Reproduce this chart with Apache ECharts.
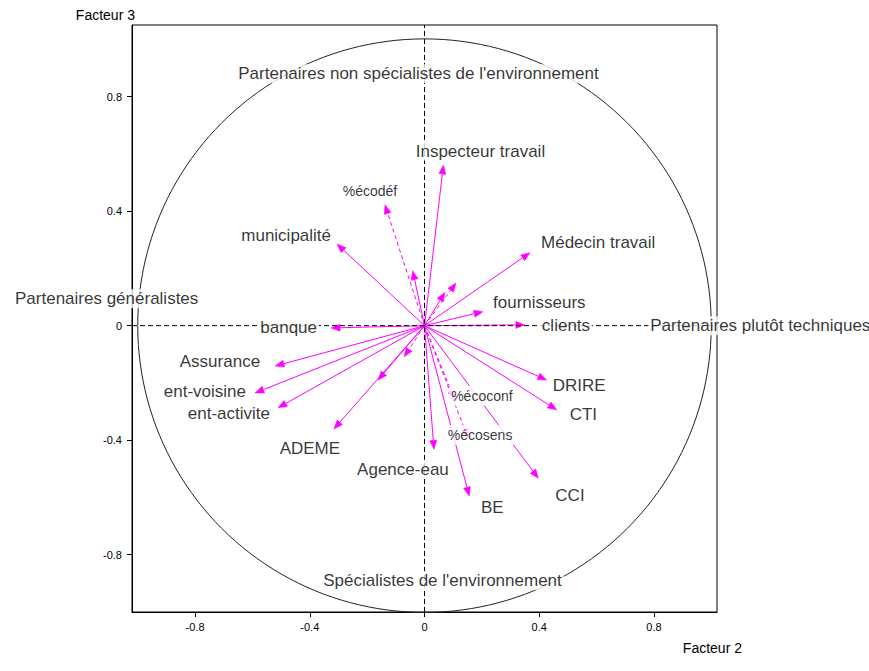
<!DOCTYPE html>
<html><head><meta charset="utf-8">
<script src="https://cdn.jsdelivr.net/npm/echarts@6/dist/echarts.min.js"></script>
<style>html,body{margin:0;padding:0;background:#fff}#c{width:869px;height:671px}</style>
</head><body><div id="c"></div>
<script>
// Variables (labels; '' = unlabeled vector)
const variables = ['Inspecteur travail','%écodéf','municipalité','Médecin travail','fournisseurs','clients','banque','Assurance','ent-voisine','ent-activite','ADEME','Agence-eau','BE','CCI','CTI','DRIRE','%écoconf','%écosens','','','','',''];
// Coordinates on Facteur 2 (x) and Facteur 3 (y)
const factor2 = [0.066,-0.138,-0.305,0.368,0.204,0.350,-0.326,-0.521,-0.591,-0.511,-0.316,0.033,0.156,0.397,0.461,0.426,0.106,0.152,0.110,0.071,-0.041,-0.162,-0.071];
const factor3 = [0.561,0.422,0.285,0.255,0.049,0.003,-0.008,-0.141,-0.235,-0.287,-0.361,-0.432,-0.595,-0.533,-0.294,-0.190,-0.259,-0.392,0.149,0.116,0.192,-0.190,-0.109];
// 1 = supplementary variable (dashed vector)
const supplementary = [0,1,0,0,0,0,0,0,0,0,0,0,0,0,0,0,1,1,1,0,0,0,1];
// Axis pole labels
const poles = ["Partenaires non spécialistes de l'environnement","Spécialistes de l'environnement","Partenaires généralistes","Partenaires plutôt techniques"];
const xTicks = [-0.8,-0.4,0,0.4,0.8];
const yTicks = [-0.8,-0.4,0,0.4,0.8];

// ---- styling / placement (not data) ----
const labelPlace = [
  ['center',37,-14],['center',-15,-14],['right',-4,-9],['left',9,-10],['left',8,-9],
  ['left',15,1],['right',-12,0],['right',-13,-5],['right',-7,-1],['right',-6,6],
  ['center',-24,19],['center',-31,20],['center',23,11],['left',15,17],['left',11,5],
  ['left',4,5],['center',27,-4],['center',12,-3]
];
const poleAnchor = [[0,0.88],[0,-0.89],[-1.02,0],[0.78,0]];
const polePlace = [['center',-6,0],['center',18,0],['left',-119,-27],['left',0,0]];
const FONT = "'Liberation Sans', Arial, sans-serif";
const XMIN=-1.02, XMAX=1.02, YMIN=-1.0, YMAX=1.05;

const vecData = factor2.map((x,i)=>[x, factor3[i], supplementary[i]]);

const labelData = [];
variables.forEach((name,i)=>{
  if(!name) return;
  const p = labelPlace[i];
  const small = name.charAt(0)==='%';
  labelData.push({
    value:[factor2[i], factor3[i]], name:name,
    label:{show:true, formatter:name, position:'inside', align:p[0], verticalAlign:'middle',
      offset:[p[1],p[2]], fontSize: small?14:17, fontFamily:FONT, color:'#000',
      backgroundColor:'#fff', padding: small?[3,2]:[1,2]}
  });
});
poles.forEach((name,i)=>{
  const p = polePlace[i];
  labelData.push({
    value:poleAnchor[i], name:name,
    label:{show:true, formatter:name, position:'inside', align:p[0], verticalAlign:'middle',
      offset:[p[1],p[2]], fontSize:17, fontFamily:FONT, color:'#000',
      backgroundColor:'#fff', padding:[1,2]}
  });
});

const chart = echarts.init(document.getElementById('c'), null, {renderer:'svg'});
chart.setOption({
  animation:false,
  backgroundColor:'#fff',
  grid:{left:132, right:152, top:25, bottom:59, show:true, borderColor:'#000', borderWidth:1},
  xAxis:{type:'value', min:XMIN, max:XMAX, splitLine:{show:false},
    axisLine:{show:true, onZero:false, lineStyle:{color:'#000'}},
    axisTick:{show:true, length:5, customValues:xTicks, lineStyle:{color:'#000'}},
    axisLabel:{customValues:xTicks, fontSize:11, color:'#000', fontFamily:FONT, margin:9,
      formatter:v=> v===0?'0':v.toFixed(1)},
    name:'Facteur 2', nameLocation:'end', nameGap:25,
    nameTextStyle:{fontSize:14, color:'#000', fontFamily:FONT, align:'right', verticalAlign:'top', padding:[29,0,0,0]}
  },
  yAxis:{type:'value', min:YMIN, max:YMAX, splitLine:{show:false},
    axisLine:{show:true, onZero:false, lineStyle:{color:'#000'}},
    axisTick:{show:true, length:5, customValues:yTicks, lineStyle:{color:'#000'}},
    axisLabel:{customValues:yTicks, fontSize:11, color:'#000', fontFamily:FONT, margin:10,
      formatter:v=> v===0?'0':v.toFixed(1)},
    name:'Facteur 3', nameLocation:'end', nameGap:3,
    nameTextStyle:{fontSize:14, color:'#000', fontFamily:FONT, align:'right', verticalAlign:'bottom', padding:[0,-3,0,0]}
  },
  series:[
    { // correlation circle
      type:'custom', z:1, silent:true, data:[[0,0]],
      renderItem:(params,api)=>{
        const c = api.coord([0,0]);
        const rx = api.coord([1,0])[0]-c[0];
        return {type:'circle', shape:{cx:c[0], cy:c[1], r:rx},
          style:{fill:'none', stroke:'#222', lineWidth:1}};
      }
    },
    { // vectors
      type:'custom', z:2, silent:true, data:vecData,
      renderItem:(params,api)=>{
        const o = api.coord([0,0]);
        const t = api.coord([api.value(0), api.value(1)]);
        const dashed = api.value(2)===1;
        const dx=t[0]-o[0], dy=t[1]-o[1];
        const L=Math.sqrt(dx*dx+dy*dy)||1;
        const ux=dx/L, uy=dy/L;
        const hl=9, hw=3.5;
        const bx=t[0]-ux*hl, by=t[1]-uy*hl;
        return {type:'group', children:[
          {type:'line', shape:{x1:o[0],y1:o[1],x2:bx,y2:by},
            style:{stroke:'#ff00ff', lineWidth:1, lineDash: dashed?[4,3]:null}},
          {type:'polygon', shape:{points:[[t[0],t[1]],[bx-uy*hw,by+ux*hw],[bx+uy*hw,by-ux*hw]]},
            style:{fill:'#ff00ff', stroke:'#ff00ff', lineWidth:0.5}}
        ]};
      }
    },
    { // dashed axes through origin
      type:'custom', z:3, silent:true, data:[[0,0]],
      renderItem:(params,api)=>{
        const a=api.coord([XMIN,0]), b=api.coord([XMAX,0]);
        const c=api.coord([0,YMIN]), d=api.coord([0,YMAX]);
        return {type:'group', children:[
          {type:'line', shape:{x1:a[0],y1:a[1],x2:b[0],y2:b[1]}, style:{stroke:'#000', lineWidth:1, lineDash:[5,3]}},
          {type:'line', shape:{x1:c[0],y1:c[1],x2:d[0],y2:d[1]}, style:{stroke:'#000', lineWidth:1, lineDash:[5,3]}}
        ]};
      }
    },
    { // labels
      type:'scatter', z:5, symbolSize:0, silent:true, data:labelData
    }
  ]
});
</script></body></html>
